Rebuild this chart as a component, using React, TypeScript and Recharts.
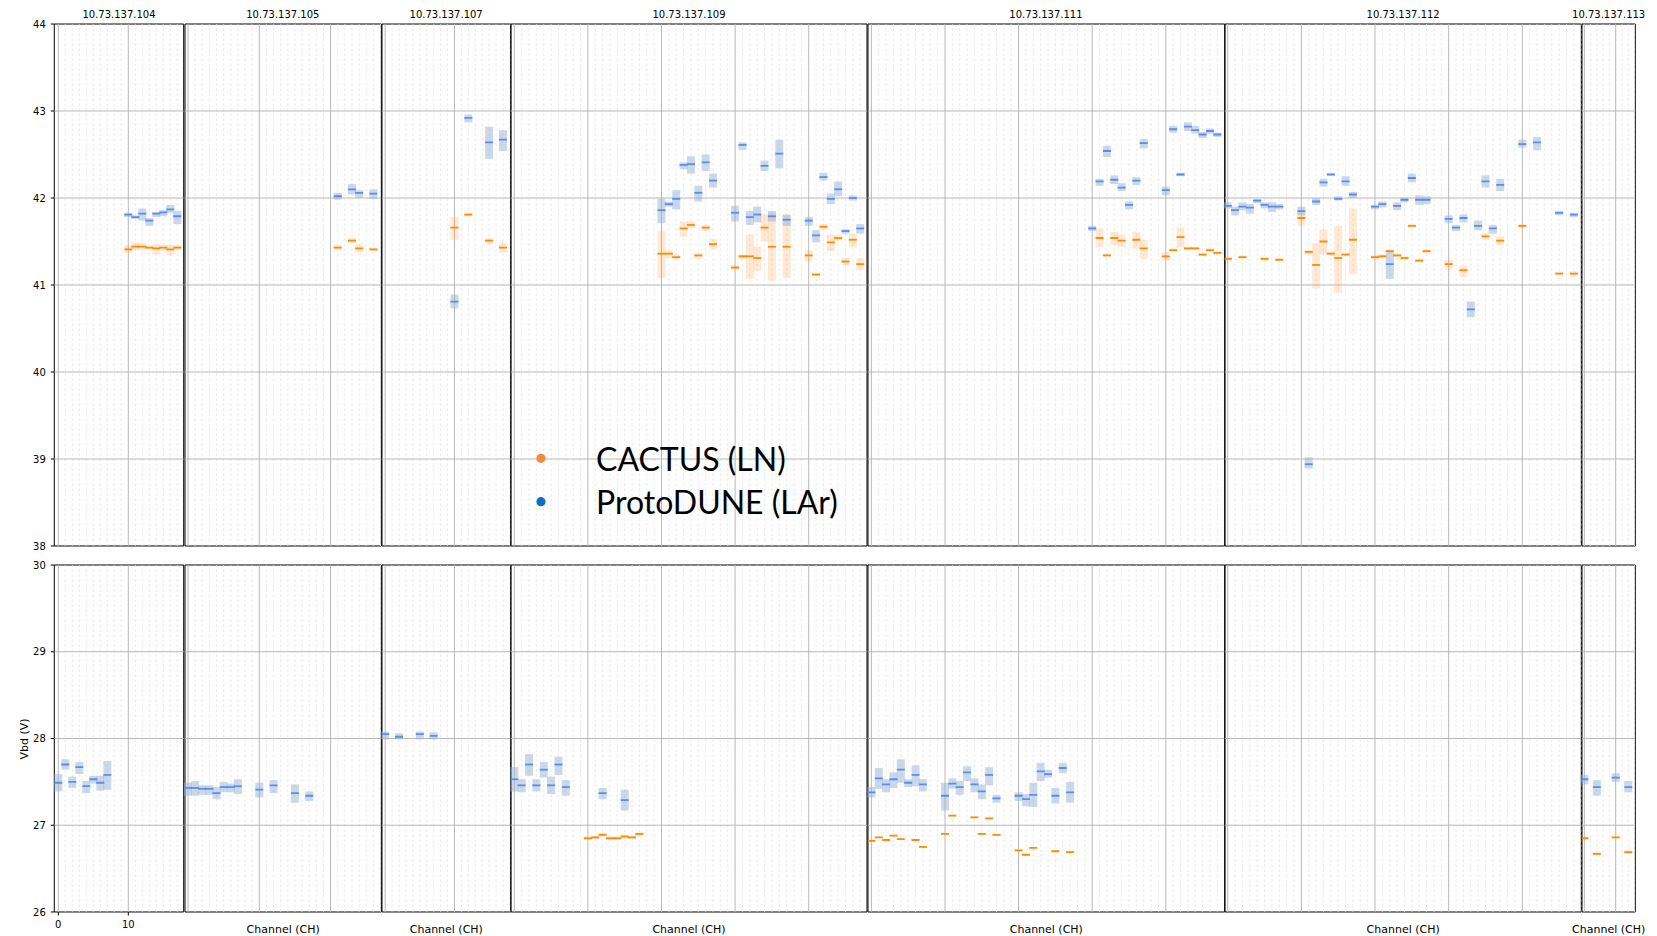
import React from "react";
import {
  ComposedChart,
  Scatter,
  ErrorBar,
  XAxis,
  YAxis,
  ReferenceLine,
  ReferenceArea,
  Legend,
} from "recharts";

// each row: [channel, q1, median, q3] in volts
type Row = [number, number, number, number];

const BOARDS = [
  "10.73.137.104",
  "10.73.137.105",
  "10.73.137.107",
  "10.73.137.109",
  "10.73.137.111",
  "10.73.137.112",
  "10.73.137.113",
];

const SERIES_NAMES = ["CACTUS (LN)", "ProtoDUNE (LAr)"];

// ---- 10.73.137.104
const top104Blue: Row[] = [
  [10, 41.78, 41.81, 41.83], [11, 41.76, 41.78, 41.8], [12, 41.74, 41.82, 41.88],
  [13, 41.68, 41.74, 41.77], [14, 41.78, 41.82, 41.84], [15, 41.79, 41.835, 41.86],
  [16, 41.83, 41.87, 41.92], [17, 41.7, 41.79, 41.85],
];
const top104Orange: Row[] = [
  [10, 41.37, 41.41, 41.46], [11, 41.4, 41.44, 41.49], [12, 41.4, 41.44, 41.48],
  [13, 41.41, 41.43, 41.45], [14, 41.35, 41.42, 41.47], [15, 41.4, 41.43, 41.46],
  [16, 41.34, 41.41, 41.46], [17, 41.4, 41.43, 41.46],
];
const bottom104Blue: Row[] = [
  [0, 27.39, 27.49, 27.59], [1, 27.64, 27.7, 27.76], [2, 27.43, 27.5, 27.56],
  [3, 27.59, 27.67, 27.73], [4, 27.37, 27.45, 27.51], [5, 27.48, 27.53, 27.57],
  [6, 27.4, 27.49, 27.57], [7, 27.41, 27.58, 27.74],
];
const bottom104Orange: Row[] = [];

// ---- 10.73.137.105
const top105Blue: Row[] = [
  [21, 41.98, 42.02, 42.06], [23, 42.04, 42.1, 42.16], [24, 42.0, 42.06, 42.09],
  [26, 41.99, 42.05, 42.1],
];
const top105Orange: Row[] = [
  [21, 41.4, 41.43, 41.46], [23, 41.48, 41.51, 41.54], [24, 41.37, 41.42, 41.47],
  [26, 41.39, 41.41, 41.43],
];
const bottom105Blue: Row[] = [
  [0, 27.34, 27.43, 27.49], [1, 27.34, 27.43, 27.51], [2, 27.35, 27.42, 27.46],
  [3, 27.35, 27.42, 27.46], [4, 27.3, 27.37, 27.44], [5, 27.38, 27.44, 27.5],
  [6, 27.38, 27.44, 27.48], [7, 27.36, 27.45, 27.53], [10, 27.32, 27.41, 27.49],
  [12, 27.37, 27.46, 27.52], [15, 27.26, 27.37, 27.47], [17, 27.28, 27.34, 27.39],
];
const bottom105Orange: Row[] = [];

// ---- 10.73.137.107
const top107Blue: Row[] = [
  [10, 40.73, 40.81, 40.89], [12, 42.87, 42.92, 42.96], [15, 42.45, 42.64, 42.82],
  [17, 42.54, 42.67, 42.78],
];
const top107Orange: Row[] = [
  [10, 41.52, 41.66, 41.78], [12, 41.79, 41.81, 41.83], [15, 41.47, 41.51, 41.54],
  [17, 41.37, 41.43, 41.49],
];
const bottom107Blue: Row[] = [
  [0, 27.99, 28.05, 28.08], [2, 27.99, 28.02, 28.06], [5, 27.99, 28.05, 28.08],
  [7, 27.99, 28.03, 28.07],
];
const bottom107Orange: Row[] = [];

// ---- 10.73.137.109
const top109Blue: Row[] = [
  [20, 41.71, 41.86, 41.99], [21, 41.9, 41.93, 41.96], [22, 41.87, 41.99, 42.09],
  [23, 42.33, 42.38, 42.41], [24, 42.28, 42.39, 42.48], [25, 41.96, 42.06, 42.14],
  [26, 42.31, 42.41, 42.5], [27, 42.12, 42.2, 42.28], [30, 41.73, 41.83, 41.91],
  [31, 42.55, 42.61, 42.64], [32, 41.69, 41.78, 41.85], [33, 41.72, 41.81, 41.9],
  [34, 42.31, 42.37, 42.43], [35, 41.73, 41.79, 41.85], [36, 42.34, 42.51, 42.67],
  [37, 41.68, 41.75, 41.81], [40, 41.68, 41.74, 41.78], [41, 41.49, 41.57, 41.63],
  [42, 42.2, 42.24, 42.29], [43, 41.93, 41.99, 42.05], [44, 42.02, 42.1, 42.19],
  [45, 41.59, 41.62, 41.64], [46, 41.97, 42.0, 42.03], [47, 41.59, 41.65, 41.7],
];
const top109Orange: Row[] = [
  [20, 41.08, 41.36, 41.62], [21, 41.31, 41.36, 41.4], [22, 41.3, 41.32, 41.35],
  [23, 41.56, 41.65, 41.73], [24, 41.65, 41.69, 41.73], [25, 41.3, 41.34, 41.37],
  [26, 41.62, 41.66, 41.69], [27, 41.41, 41.47, 41.53], [30, 41.17, 41.2, 41.23],
  [31, 41.3, 41.33, 41.35], [32, 41.07, 41.33, 41.58], [33, 41.16, 41.31, 41.44],
  [34, 41.5, 41.66, 41.81], [35, 41.05, 41.44, 41.83], [37, 41.08, 41.44, 41.8],
  [40, 41.27, 41.34, 41.4], [41, 41.1, 41.12, 41.14], [42, 41.63, 41.67, 41.7],
  [43, 41.39, 41.49, 41.58], [44, 41.51, 41.54, 41.57], [45, 41.23, 41.27, 41.31],
  [46, 41.43, 41.52, 41.59], [47, 41.17, 41.24, 41.31],
];
const bottom109Blue: Row[] = [
  [0, 27.39, 27.53, 27.67], [1, 27.38, 27.46, 27.53], [2, 27.57, 27.7, 27.82],
  [3, 27.39, 27.46, 27.53], [4, 27.55, 27.64, 27.73], [5, 27.36, 27.46, 27.56],
  [6, 27.58, 27.7, 27.79], [7, 27.34, 27.44, 27.52], [12, 27.3, 27.37, 27.43],
  [15, 27.17, 27.29, 27.41],
];
const bottom109Orange: Row[] = [
  [10, 26.83, 26.85, 26.87], [11, 26.84, 26.86, 26.88], [12, 26.87, 26.89, 26.91],
  [13, 26.83, 26.85, 26.87], [14, 26.83, 26.85, 26.87], [15, 26.85, 26.87, 26.89],
  [16, 26.84, 26.86, 26.88], [17, 26.88, 26.9, 26.92],
];

// ---- 10.73.137.111
const top111Blue: Row[] = [
  [30, 41.62, 41.65, 41.68], [31, 42.14, 42.19, 42.22], [32, 42.47, 42.54, 42.6],
  [33, 42.16, 42.21, 42.26], [34, 42.08, 42.12, 42.17], [35, 41.87, 41.92, 41.96],
  [36, 42.15, 42.2, 42.24], [37, 42.57, 42.63, 42.68], [40, 42.03, 42.09, 42.13],
  [41, 42.75, 42.79, 42.83], [42, 42.25, 42.27, 42.29], [43, 42.77, 42.82, 42.87],
  [44, 42.74, 42.78, 42.83], [45, 42.69, 42.73, 42.76], [46, 42.74, 42.77, 42.8],
  [47, 42.7, 42.73, 42.75],
];
const top111Orange: Row[] = [
  [31, 41.43, 41.54, 41.65], [32, 41.32, 41.34, 41.36], [33, 41.46, 41.54, 41.61],
  [34, 41.44, 41.51, 41.58], [36, 41.42, 41.52, 41.61], [37, 41.3, 41.42, 41.52],
  [40, 41.28, 41.33, 41.38], [41, 41.38, 41.4, 41.42], [42, 41.43, 41.55, 41.66],
  [43, 41.4, 41.42, 41.44], [44, 41.4, 41.42, 41.44], [45, 41.33, 41.35, 41.37],
  [46, 41.38, 41.4, 41.42], [47, 41.35, 41.37, 41.39],
];
const bottom111Blue: Row[] = [
  [0, 27.32, 27.38, 27.44], [1, 27.42, 27.54, 27.66], [2, 27.38, 27.47, 27.53],
  [3, 27.43, 27.53, 27.61], [4, 27.49, 27.64, 27.76], [5, 27.44, 27.49, 27.53],
  [6, 27.45, 27.58, 27.69], [7, 27.39, 27.47, 27.53], [10, 27.17, 27.34, 27.49],
  [11, 27.42, 27.48, 27.54], [12, 27.35, 27.44, 27.51], [13, 27.51, 27.61, 27.68],
  [14, 27.38, 27.47, 27.54], [15, 27.3, 27.39, 27.47], [16, 27.46, 27.58, 27.67],
  [17, 27.26, 27.31, 27.35], [20, 27.28, 27.34, 27.38], [21, 27.22, 27.3, 27.36],
  [22, 27.21, 27.35, 27.49], [23, 27.51, 27.62, 27.72], [24, 27.55, 27.59, 27.64],
  [25, 27.25, 27.34, 27.43], [26, 27.6, 27.66, 27.72], [27, 27.26, 27.38, 27.5],
];
const bottom111Orange: Row[] = [
  [0, 26.81, 26.82, 26.83], [1, 26.85, 26.86, 26.87], [2, 26.82, 26.83, 26.84],
  [3, 26.87, 26.88, 26.89], [4, 26.83, 26.84, 26.85], [6, 26.82, 26.83, 26.84],
  [7, 26.74, 26.75, 26.76], [10, 26.89, 26.9, 26.91], [11, 27.1, 27.11, 27.12],
  [14, 27.08, 27.09, 27.1], [15, 26.89, 26.9, 26.91], [16, 27.07, 27.08, 27.09],
  [17, 26.88, 26.89, 26.9], [20, 26.7, 26.71, 26.72], [21, 26.65, 26.66, 26.67],
  [22, 26.73, 26.74, 26.75], [25, 26.69, 26.7, 26.71], [27, 26.68, 26.69, 26.7],
];

// ---- 10.73.137.112
const top112Blue: Row[] = [
  [0, 41.88, 41.91, 41.95], [1, 41.8, 41.86, 41.9], [2, 41.86, 41.9, 41.95],
  [3, 41.82, 41.89, 41.93], [4, 41.94, 41.97, 41.99], [5, 41.88, 41.92, 41.95],
  [6, 41.84, 41.9, 41.95], [7, 41.87, 41.9, 41.93], [10, 41.8, 41.85, 41.9],
  [11, 38.89, 38.94, 39.02], [12, 41.92, 41.96, 42.0], [13, 42.13, 42.18, 42.22],
  [14, 42.26, 42.27, 42.28], [15, 41.97, 41.99, 42.02], [16, 42.14, 42.19, 42.25],
  [17, 42.0, 42.04, 42.07], [20, 41.87, 41.9, 41.92], [21, 41.89, 41.93, 41.96],
  [22, 41.07, 41.24, 41.39], [23, 41.86, 41.91, 41.95], [24, 41.95, 41.98, 42.0],
  [25, 42.18, 42.23, 42.28], [26, 41.92, 41.98, 42.03], [27, 41.93, 41.98, 42.02],
  [30, 41.71, 41.76, 41.8], [31, 41.62, 41.66, 41.69], [32, 41.72, 41.77, 41.81],
  [33, 40.63, 40.72, 40.81], [34, 41.63, 41.68, 41.74], [35, 42.12, 42.19, 42.26],
  [36, 41.59, 41.65, 41.69], [37, 42.08, 42.15, 42.22], [40, 42.58, 42.62, 42.67],
  [42, 42.55, 42.64, 42.7], [45, 41.8, 41.83, 41.85], [47, 41.78, 41.81, 41.83],
];
const top112Orange: Row[] = [
  [0, 41.28, 41.3, 41.32], [2, 41.3, 41.32, 41.34], [5, 41.28, 41.3, 41.32],
  [7, 41.27, 41.29, 41.31], [10, 41.68, 41.77, 41.85], [11, 41.35, 41.38, 41.4],
  [12, 40.96, 41.23, 41.48], [13, 41.35, 41.5, 41.64], [14, 41.34, 41.36, 41.38],
  [15, 40.91, 41.31, 41.68], [16, 41.33, 41.35, 41.37], [17, 41.13, 41.52, 41.88],
  [20, 41.29, 41.32, 41.34], [21, 41.31, 41.33, 41.35], [22, 41.37, 41.39, 41.41],
  [23, 41.32, 41.34, 41.36], [24, 41.29, 41.31, 41.33], [25, 41.66, 41.68, 41.7],
  [26, 41.26, 41.28, 41.3], [27, 41.36, 41.39, 41.41], [30, 41.18, 41.24, 41.29],
  [32, 41.09, 41.17, 41.22], [35, 41.52, 41.56, 41.6], [37, 41.46, 41.51, 41.56],
  [40, 41.65, 41.68, 41.7], [45, 41.11, 41.13, 41.15], [47, 41.1, 41.13, 41.16],
];
const bottom112Blue: Row[] = [];
const bottom112Orange: Row[] = [];

// ---- 10.73.137.113
const top113Blue: Row[] = [];
const top113Orange: Row[] = [];
const bottom113Blue: Row[] = [
  [0, 27.47, 27.53, 27.58], [2, 27.34, 27.44, 27.52], [5, 27.5, 27.55, 27.6],
  [7, 27.38, 27.44, 27.51],
];
const bottom113Orange: Row[] = [
  [0, 26.84, 26.85, 26.86], [2, 26.65, 26.67, 26.69], [5, 26.85, 26.86, 26.87],
  [7, 26.67, 26.69, 26.71],
];

const DATA = {
  top: {
    blue: [top104Blue, top105Blue, top107Blue, top109Blue, top111Blue, top112Blue, top113Blue],
    orange: [top104Orange, top105Orange, top107Orange, top109Orange, top111Orange, top112Orange, top113Orange],
  },
  bottom: {
    blue: [bottom104Blue, bottom105Blue, bottom107Blue, bottom109Blue, bottom111Blue, bottom112Blue, bottom113Blue],
    orange: [bottom104Orange, bottom105Orange, bottom107Orange, bottom109Orange, bottom111Orange, bottom112Orange, bottom113Orange],
  },
};

// layout of the subplot grid (pixels) and channel limits per board
const PANELS = [
  { left: 54.3, right: 183.7, lo: -0.57, hi: 17.91, step: 10 },
  { left: 184.7, right: 381, lo: -0.42, hi: 27.11, step: 10 },
  { left: 381.8, right: 510.5, lo: -0.46, hi: 18.11, step: 10 },
  { left: 511, right: 867, lo: -0.45, hi: 47.92, step: 10 },
  { left: 867.6, right: 1224.3, lo: -0.46, hi: 48.0, step: 10 },
  { left: 1225, right: 1581.3, lo: -0.37, hi: 48.01, step: 10 },
  { left: 1582, right: 1635.3, lo: -0.37, hi: 8.12, step: 5 },
];

const ROWS = {
  top: { y: 24.3, h: 522, domain: [38, 44], ticks: [38, 39, 40, 41, 42, 43, 44], axisH: 6 },
  bottom: { y: 565.3, h: 347, domain: [26, 30], ticks: [26, 27, 28, 29, 30], axisH: 23.7 },
};

const COLORS = {
  orange: "#ff8c00",
  orangeBox: "rgba(255,165,80,0.24)",
  orangeLegend: "#f28e3b",
  blue: "#5b8def",
  blueBox: "rgba(150,178,214,0.5)",
  blueLegend: "#0d6ec5",
  grid: "#b8b8b8",
  minor: "#e2e2e2",
};

const FONT = "DejaVu Sans";
const PAD_T = 8; // room for the top tick label
const PAD_X = 14; // room for axis labels wider than narrow panels

const toPoints = (rows: Row[]) =>
  rows.map(([ch, q1, med, q3]) => ({ ch, med, err: [med - q1, q3 - med] }));

const medianShape = (color: string) => (props: any) => (
  <line
    x1={props.cx - 4}
    x2={props.cx + 4}
    y1={props.cy}
    y2={props.cy}
    stroke={color}
    strokeWidth={1.8}
  />
);

const LegendContent = ({ payload }: any) => (
  <svg width={320} height={100}>
    {(payload || []).map((entry: any, i: number) => (
      <g key={entry.value}>
        <circle cx={5} cy={28.3 + i * 43.4} r={4.6} fill={entry.color} />
        <text x={60} y={40.7 + i * 43.4} fontSize={32} fontFamily="Lato" fill="#000">
          {entry.value}
        </text>
      </g>
    ))}
  </svg>
);

function Panel({ idx, row }: { idx: number; row: "top" | "bottom" }) {
  const p = PANELS[idx];
  const r = ROWS[row];
  const first = idx === 0;
  const yw = first ? 54.3 : 5;
  const padL = first ? 0 : PAD_X;
  const width = padL + yw + (p.right - p.left) + PAD_X;
  const height = PAD_T + r.h + r.axisH;

  const majors: number[] = [];
  for (let c = Math.ceil(p.lo); c <= p.hi; c++) if (c % p.step === 0) majors.push(c);
  const minors: number[] = [];
  for (let c = Math.ceil(p.lo); c < p.hi; c++) if (c % p.step !== 0) minors.push(c);
  const yMajors = r.ticks.filter((t) => t > r.domain[0] && t < r.domain[1]);

  const blue = toPoints(DATA[row].blue[idx]);
  const orange = toPoints(DATA[row].orange[idx]);

  return (
    <div style={{ position: "absolute", left: p.left - yw - padL, top: r.y - PAD_T }}>
      <ComposedChart
        width={width}
        height={height}
        margin={{ top: PAD_T, right: PAD_X, bottom: 0, left: padL }}
      >
        <XAxis
          type="number"
          dataKey="ch"
          domain={[p.lo, p.hi]}
          allowDataOverflow
          ticks={majors}
          interval={0}
          height={r.axisH}
          axisLine={false}
          tickSize={3.5}
          tickMargin={5}
          tickLine={{ stroke: "#000" }}
          tick={row === "bottom" && first ? { fontSize: 10, fill: "#000", fontFamily: FONT } : false}
          label={
            row === "bottom" && !first
              ? { value: "Channel (CH)", position: "insideBottom", offset: 2.7, fontSize: 11, fill: "#000", fontFamily: FONT }
              : undefined
          }
        />
        <YAxis
          type="number"
          dataKey="med"
          domain={r.domain}
          allowDataOverflow
          ticks={r.ticks}
          interval={0}
          width={yw}
          axisLine={false}
          tickSize={3.5}
          tickMargin={5}
          tickLine={{ stroke: "#000" }}
          tick={first ? { fontSize: 10, fill: "#000", fontFamily: FONT } : false}
        />
        {minors.map((c) => (
          <ReferenceLine key={`m${c}`} x={c} stroke={COLORS.minor} strokeWidth={0.8} strokeDasharray="2.5 2.5" />
        ))}
        {majors.map((c) => (
          <ReferenceLine key={`v${c}`} x={c} stroke={COLORS.grid} strokeWidth={1} />
        ))}
        {yMajors.map((v) => (
          <ReferenceLine key={`h${v}`} y={v} stroke={COLORS.grid} strokeWidth={1} />
        ))}
        <Scatter
          name={SERIES_NAMES[0]}
          data={orange}
          fill={COLORS.orangeLegend}
          shape={medianShape(COLORS.orange)}
          isAnimationActive={false}
        >
          <ErrorBar dataKey="err" direction="y" width={0} strokeWidth={8} stroke={COLORS.orangeBox} isAnimationActive={false} />
        </Scatter>
        <Scatter
          name={SERIES_NAMES[1]}
          data={blue}
          fill={COLORS.blueLegend}
          shape={medianShape(COLORS.blue)}
          isAnimationActive={false}
        >
          <ErrorBar dataKey="err" direction="y" width={0} strokeWidth={8} stroke={COLORS.blueBox} isAnimationActive={false} />
        </Scatter>
        <ReferenceArea
          x1={p.lo}
          x2={p.hi}
          y1={r.domain[0]}
          y2={r.domain[1]}
          fill="none"
          stroke="#000"
          strokeWidth={1}
        />
        {row === "top" && idx === 3 && (
          <Legend
            layout="horizontal"
            verticalAlign="middle"
            align="center"
            content={<LegendContent />}
            wrapperStyle={{ left: 30 + padL, top: 405.7 + PAD_T, width: 320, height: 100 }}
          />
        )}
      </ComposedChart>
    </div>
  );
}

export default function App() {
  return (
    <div
      style={{
        position: "absolute",
        left: 0,
        top: 0,
        width: 1657,
        height: 936,
        background: "#fff",
        overflow: "hidden",
      }}
    >
      {PANELS.map((_, i) => (
        <Panel key={`t${i}`} idx={i} row="top" />
      ))}
      {PANELS.map((_, i) => (
        <Panel key={`b${i}`} idx={i} row="bottom" />
      ))}
      <svg
        width={1657}
        height={936}
        style={{ position: "absolute", left: 0, top: 0, pointerEvents: "none" }}
      >
        {PANELS.map((p, i) => (
          <text
            key={BOARDS[i]}
            x={(p.left + p.right) / 2}
            y={18}
            textAnchor="middle"
            fontSize={10}
            fontFamily={FONT}
            fill="#000"
          >
            {BOARDS[i]}
          </text>
        ))}
        <text
          transform="translate(27.5, 739) rotate(-90)"
          textAnchor="middle"
          fontSize={11}
          fontFamily={FONT}
          fill="#000"
        >
          Vbd (V)
        </text>
      </svg>
    </div>
  );
}
